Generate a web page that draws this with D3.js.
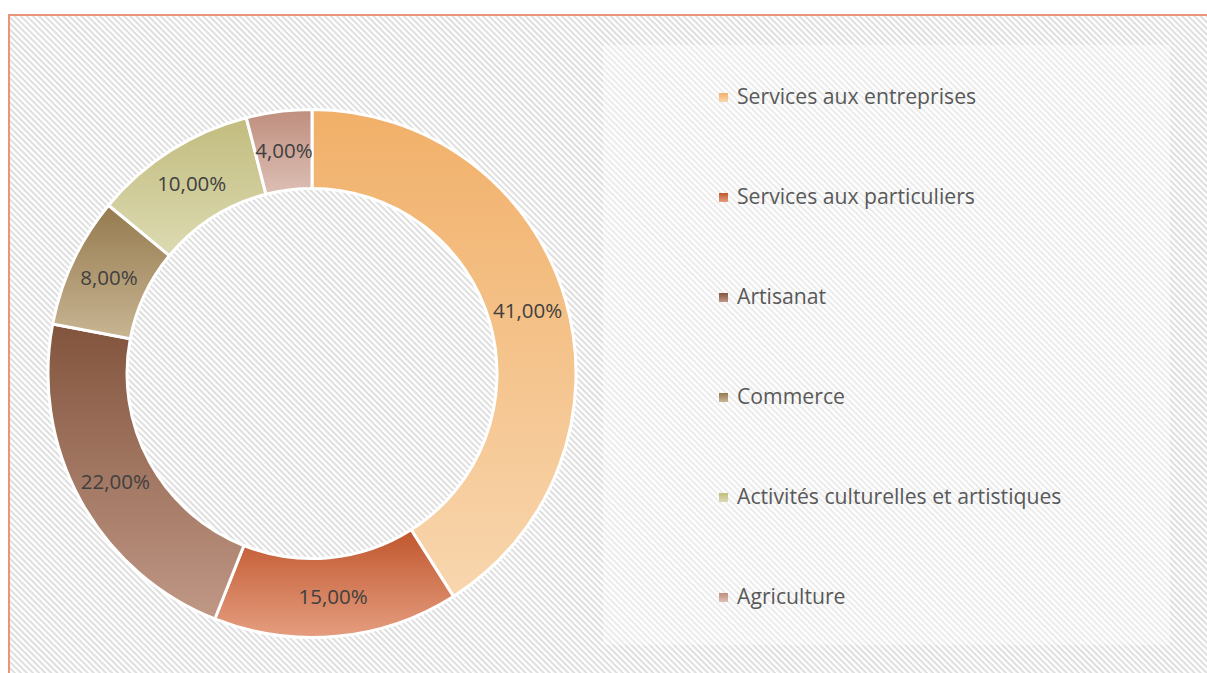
<!DOCTYPE html>
<html>
<head>
<meta charset="utf-8">
<script src="https://cdn.jsdelivr.net/npm/d3@7"></script>
<style>
html,body{margin:0;padding:0;background:#fff;}
svg{display:block;}
</style>
</head>
<body>
<svg id="chart" width="1207" height="673"></svg>
<script>
const categories = ["Services aux entreprises","Services aux particuliers","Artisanat","Commerce","Activités culturelles et artistiques","Agriculture"];
const values = [41, 15, 22, 8, 10, 4];
const labels = ["41,00%","15,00%","22,00%","8,00%","10,00%","4,00%"];
const topColors = ["#F1B069","#C0562D","#82543D","#957A4E","#C2BC7E","#BF8E7E"];
const bottomColors = ["#F8D6AE","#E59E80","#C09886","#C8B593","#DCDAB2","#DDBFB5"];

const svg = d3.select("#chart");
const W = 1207, H = 673;
const defs = svg.append("defs");

// hatch background
const pat = defs.append("pattern").attr("id","hatch").attr("patternUnits","userSpaceOnUse")
  .attr("width",4.3).attr("height",4.3).attr("patternTransform","rotate(45)");
pat.append("rect").attr("width",4.3).attr("height",4.3).attr("fill","#ffffff");
pat.append("rect").attr("x",0).attr("y",0).attr("width",4.3).attr("height",2).attr("fill","#dedede");

categories.forEach((c,i)=>{
  const g = defs.append("linearGradient").attr("id","grad"+i).attr("x1",0).attr("y1",0).attr("x2",0).attr("y2",1);
  g.append("stop").attr("offset","0%").attr("stop-color",topColors[i]);
  g.append("stop").attr("offset","100%").attr("stop-color",bottomColors[i]);
});

svg.append("rect").attr("x",9).attr("y",15).attr("width",W).attr("height",H)
  .attr("fill","url(#hatch)").attr("stroke","#E8957A").attr("stroke-width",2);

// legend box (lighter area)
svg.append("rect").attr("x",603).attr("y",45).attr("width",567).attr("height",600)
  .attr("fill","#ffffff").attr("fill-opacity",0.4);

const cx = 312, cy = 373.5, R = 264, r = 185;
const pie = d3.pie().sort(null).value(d=>d)(values);
const arc = d3.arc().innerRadius(r).outerRadius(R);
const labelArc = d3.arc().innerRadius((r+R)/2).outerRadius((r+R)/2);

const g = svg.append("g").attr("transform",`translate(${cx},${cy})`);
g.selectAll("path.slice").data(pie).enter().append("path")
  .attr("class","slice")
  .attr("d",arc)
  .attr("fill",(d,i)=>`url(#grad${i})`)
  .attr("stroke","#ffffff").attr("stroke-width",3).attr("stroke-linejoin","round");

g.selectAll("text.lbl").data(pie).enter().append("text")
  .attr("class","lbl")
  .attr("transform",d=>{const c=labelArc.centroid(d);return `translate(${c[0]},${c[1]})`;})
  .attr("text-anchor","middle").attr("dy","0.35em")
  .attr("font-family","'Open Sans', sans-serif").attr("font-size",20.5)
  .attr("fill","#404040")
  .text((d,i)=>labels[i]);

// legend
const legY = d3.scalePoint().domain(categories).range([97,597]);
const lg = svg.append("g");
categories.forEach((c,i)=>{
  const y = legY(c);
  lg.append("rect").attr("x",719).attr("y",y-4).attr("width",9).attr("height",9)
    .attr("fill",`url(#grad${i})`);
  lg.append("text").attr("x",737).attr("y",y).attr("dy","0.35em")
    .attr("font-family","'Open Sans', sans-serif").attr("font-size",21.2)
    .attr("fill","#595959").text(c);
});
</script>
</body>
</html>
